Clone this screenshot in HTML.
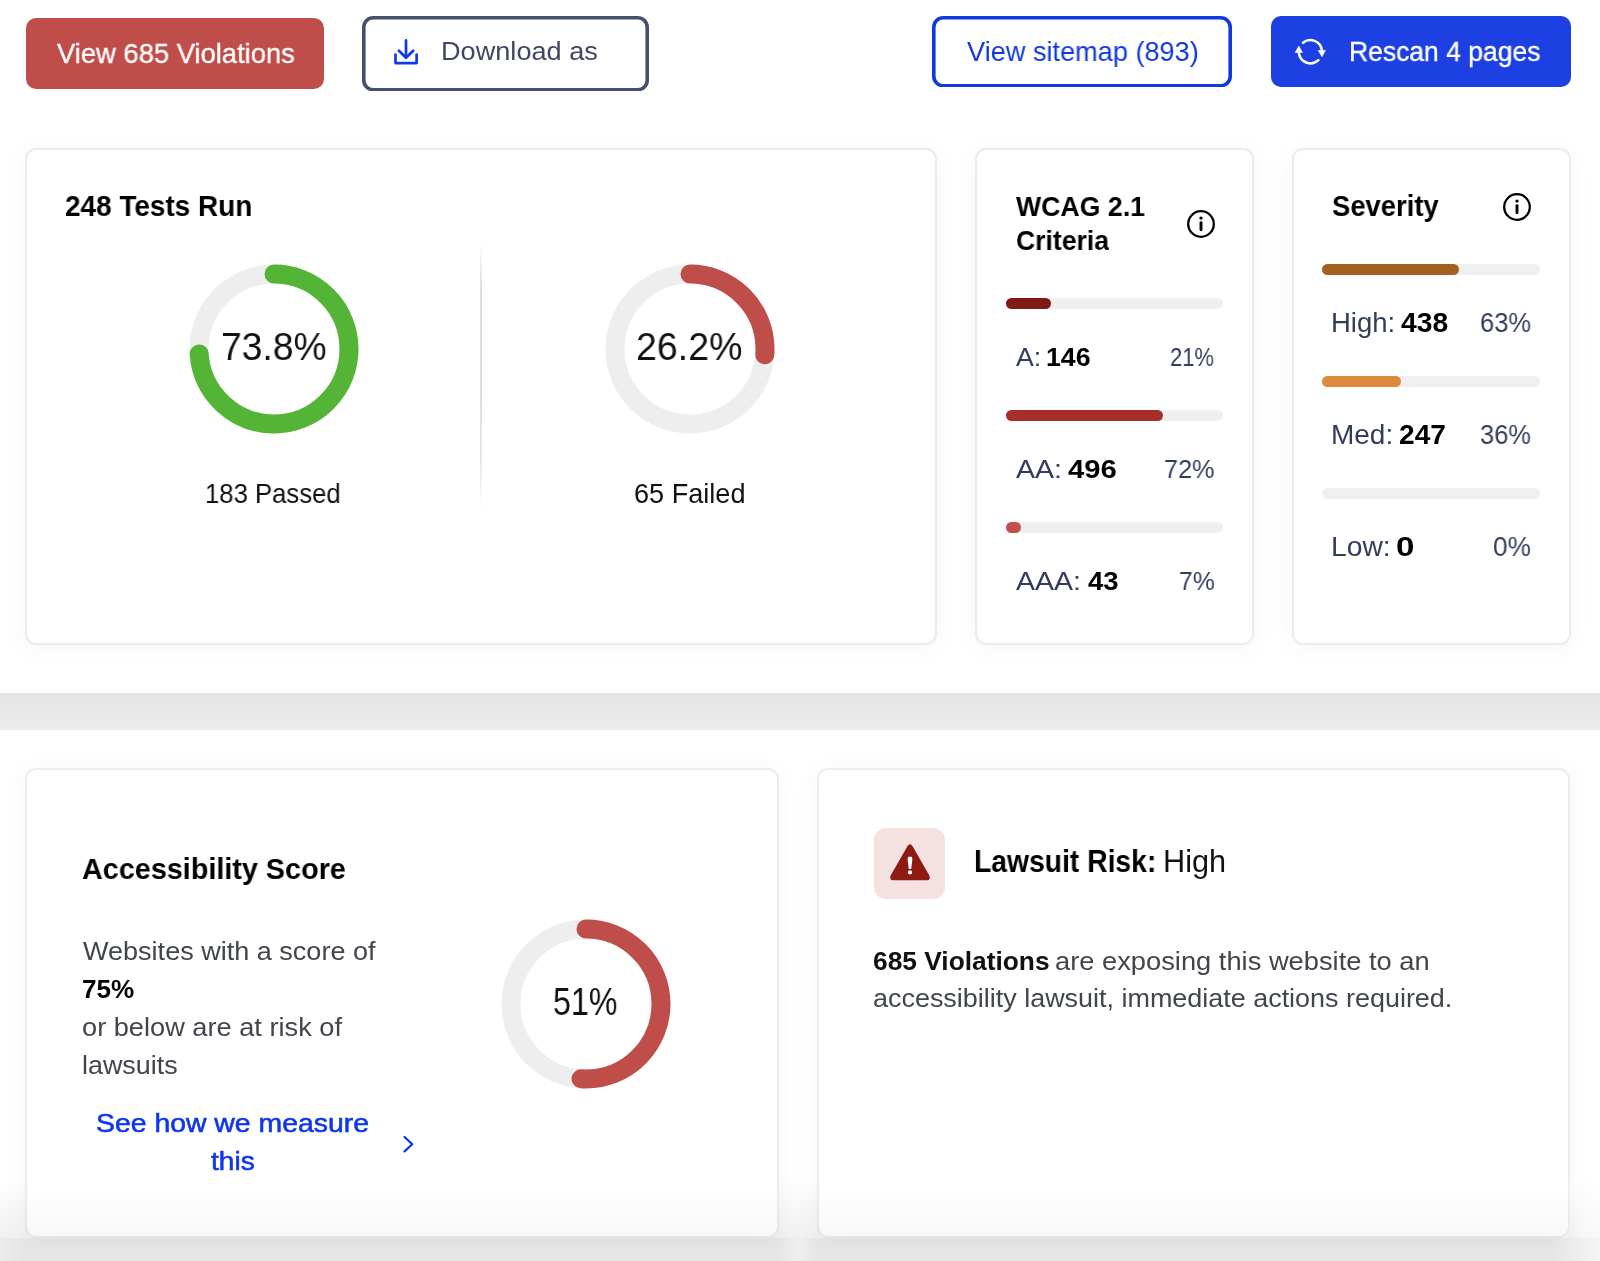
<!DOCTYPE html>
<html><head><meta charset="utf-8"><style>
html,body{margin:0;padding:0;}
body{width:1600px;height:1261px;overflow:hidden;position:relative;background:#fff;font-family:'Liberation Sans', sans-serif;}
.abs{position:absolute;}
.t{position:absolute;white-space:nowrap;line-height:1;font-family:'Liberation Sans', sans-serif;will-change:transform;}
.t b{font-weight:700;color:#000;}
.card{position:absolute;box-sizing:border-box;background:#fff;border:2px solid #ececec;border-radius:11px;box-shadow:0 3px 24px rgba(0,0,0,0.045);}
</style></head><body>
<div class="abs" style="left:25.5px;top:17.5px;width:298px;height:71.5px;border-radius:10px;background:#bf4d4a"></div>
<svg class="abs" style="left:362px;top:15.5px" width="287" height="75.5" viewBox="0 0 287 75.5"><rect x="1.8" y="1.8" width="283.4" height="71.9" rx="9.5" fill="#fff" stroke="#46506a" stroke-width="3.6"/></svg>
<svg class="abs" style="left:932px;top:15.5px" width="300" height="71.5" viewBox="0 0 300 71.5"><rect x="1.8" y="1.8" width="296.4" height="67.9" rx="9.5" fill="#fff" stroke="#1139e2" stroke-width="3.6"/></svg>
<div class="abs" style="left:1270.5px;top:15.5px;width:300px;height:71.5px;border-radius:10px;background:#1c40e2"></div>
<svg class="abs" style="left:390px;top:35px" width="32" height="32" viewBox="390 35 32 32">
<path d="M406 40.4 V57" stroke="#1038e6" stroke-width="2.7" fill="none" stroke-linecap="round"/>
<path d="M398.9 50.7 L406 57.8 L413.2 50.7" stroke="#1038e6" stroke-width="2.7" fill="none" stroke-linecap="round" stroke-linejoin="round"/>
<path d="M395.5 54.6 V63.1 H416.6 V54.6" stroke="#1038e6" stroke-width="2.7" fill="none" stroke-linecap="round" stroke-linejoin="round"/>
</svg>
<svg class="abs" style="left:1290px;top:32px" width="42" height="40" viewBox="1290 32 42 40">
<path d="M1302.99 42.77 A11.6 11.6 0 0 1 1321.87 50.2" stroke="#fff" stroke-width="2.5" fill="none" stroke-linecap="round"/>
<path d="M1318.39 60.11 A11.6 11.6 0 0 1 1298.84 52.4" stroke="#fff" stroke-width="2.5" fill="none" stroke-linecap="round"/>
<path d="M1318.3 50.4 L1325.5 50.4 L1321.9 56.7 Z" fill="#fff" stroke="#fff" stroke-width="0.6" stroke-linejoin="round"/>
<path d="M1295.2 52.5 L1302.4 52.5 L1298.8 46.0 Z" fill="#fff" stroke="#fff" stroke-width="0.6" stroke-linejoin="round"/>
</svg>
<div class="abs" style="left:0;top:692.6px;width:1600px;height:37.6px;background:linear-gradient(#e4e4e4,#ececec)"></div>
<div class="abs" style="left:0;top:1180px;width:1600px;height:58px;background:linear-gradient(to bottom,rgba(230,230,230,0),rgba(230,230,230,0.6))"></div>
<div class="abs" style="left:0;top:1238px;width:1600px;height:23px;background:#e6e6e6"></div>
<div class="card" style="left:25px;top:148px;width:912px;height:497px"></div>
<div class="card" style="left:975px;top:148px;width:279px;height:497px"></div>
<div class="card" style="left:1292px;top:148px;width:279px;height:497px"></div>
<div class="card" style="left:25px;top:768px;width:754px;height:470px"></div>
<div class="card" style="left:817px;top:768px;width:753px;height:470px"></div>
<div class="abs" style="left:479.5px;top:242px;width:2px;height:269px;background:linear-gradient(to bottom,rgba(222,222,222,0),#dcdcdc 18%,#dddddd 55%,#e6e6e6 80%,rgba(235,235,235,0))"></div>
<svg class="abs" style="left:179.80px;top:255.30px" width="188" height="188" viewBox="0 0 188 188">
<circle cx="94.0" cy="94.0" r="75" fill="none" stroke="#eeeeee" stroke-width="19"/>
<circle cx="94.0" cy="94.0" r="75" fill="none" stroke="#53b435" stroke-width="19" stroke-linecap="round" stroke-dasharray="347.774 471.239" transform="rotate(-90 94.0 94.0)"/>
</svg>
<svg class="abs" style="left:595.80px;top:255.30px" width="188" height="188" viewBox="0 0 188 188">
<circle cx="94.0" cy="94.0" r="75" fill="none" stroke="#eeeeee" stroke-width="19"/>
<circle cx="94.0" cy="94.0" r="75" fill="none" stroke="#bf4d4a" stroke-width="19" stroke-linecap="round" stroke-dasharray="123.465 471.239" transform="rotate(-90 94.0 94.0)"/>
</svg>
<svg class="abs" style="left:491.90px;top:909.50px" width="188" height="188" viewBox="0 0 188 188">
<circle cx="94.0" cy="94.0" r="75" fill="none" stroke="#eeeeee" stroke-width="19"/>
<circle cx="94.0" cy="94.0" r="75" fill="none" stroke="#bf4d4a" stroke-width="19" stroke-linecap="round" stroke-dasharray="240.332 471.239" transform="rotate(-90 94.0 94.0)"/>
</svg>
<svg class="abs" style="left:1186px;top:209px" width="30" height="30" viewBox="0 0 30 30">
<circle cx="15" cy="15" r="12.8" fill="none" stroke="#000" stroke-width="2.3"/>
<circle cx="15" cy="9.1" r="1.7" fill="#000"/>
<line x1="15" y1="13.6" x2="15" y2="20.8" stroke="#000" stroke-width="2.9" stroke-linecap="round"/>
</svg>
<svg class="abs" style="left:1502.4px;top:191.8px" width="30" height="30" viewBox="0 0 30 30">
<circle cx="15" cy="15" r="12.8" fill="none" stroke="#000" stroke-width="2.3"/>
<circle cx="15" cy="9.1" r="1.7" fill="#000"/>
<line x1="15" y1="13.6" x2="15" y2="20.8" stroke="#000" stroke-width="2.9" stroke-linecap="round"/>
</svg>
<div class="abs" style="left:1005.7px;top:298.2px;width:217.8px;height:11px;border-radius:5.5px;background:#efefef"><div class="abs" style="left:0;top:0;width:45.3px;height:11px;border-radius:5.5px;background:#7f1a14"></div></div>
<div class="abs" style="left:1005.7px;top:410px;width:217.8px;height:11px;border-radius:5.5px;background:#efefef"><div class="abs" style="left:0;top:0;width:157.0px;height:11px;border-radius:5.5px;background:#a62f2b"></div></div>
<div class="abs" style="left:1005.7px;top:522px;width:217.8px;height:11px;border-radius:5.5px;background:#efefef"><div class="abs" style="left:0;top:0;width:15.1px;height:11px;border-radius:5.5px;background:#c14f4c"></div></div>
<div class="abs" style="left:1322.3px;top:264px;width:217.9px;height:11px;border-radius:5.5px;background:#efefef"><div class="abs" style="left:0;top:0;width:136.8px;height:11px;border-radius:5.5px;background:#a3601f"></div></div>
<div class="abs" style="left:1322.3px;top:376px;width:217.9px;height:11px;border-radius:5.5px;background:#efefef"><div class="abs" style="left:0;top:0;width:78.4px;height:11px;border-radius:5.5px;background:#dd8a3c"></div></div>
<div class="abs" style="left:1322.3px;top:488.2px;width:217.9px;height:11px;border-radius:5.5px;background:#efefef"></div>
<svg class="abs" style="left:398px;top:1132px" width="22" height="24" viewBox="398 1132 22 24">
<path d="M404.5 1137 L412.3 1144.2 L404.5 1151.4" stroke="#0b33ef" stroke-width="2.2" fill="none" stroke-linecap="round" stroke-linejoin="round"/>
</svg>
<div class="abs" style="left:874px;top:828px;width:71px;height:71px;border-radius:12px;background:#f6e1e1"></div>
<svg class="abs" style="left:885px;top:840px" width="50" height="45" viewBox="885 840 50 45">
<path d="M907.4 846.3 Q910 842.2 912.6 846.3 L929.2 875.2 Q931.4 880.2 926.5 880.2 L893.5 880.2 Q888.6 880.2 890.8 875.2 Z" fill="#8e1b11"/>
<path d="M907.6 859 Q907.6 856.6 910 856.6 Q912.4 856.6 912.4 859 L911.3 868.4 Q910 869.4 908.7 868.4 Z" fill="#fff"/>
<circle cx="910" cy="872.4" r="2.1" fill="#fff"/>
</svg>
<div class="abs" style="left:779px;top:1238px;width:38px;height:23px;background:linear-gradient(to right,rgba(255,255,255,0),rgba(255,255,255,0.35) 50%,rgba(255,255,255,0))"></div>
<div class="abs" style="left:1550px;top:1180px;width:50px;height:81px;background:linear-gradient(to right,rgba(255,255,255,0),rgba(255,255,255,0.6))"></div>
<div class="abs" style="left:0;top:1238px;width:25px;height:23px;background:linear-gradient(to right,rgba(255,255,255,0.25),rgba(255,255,255,0))"></div>
<div class="abs" style="left:25px;top:1190px;width:754px;height:48px;border-radius:0 0 11px 11px;background:linear-gradient(to bottom,rgba(0,0,0,0),rgba(0,0,0,0.03))"></div>
<div class="abs" style="left:817px;top:1190px;width:753px;height:48px;border-radius:0 0 11px 11px;background:linear-gradient(to bottom,rgba(0,0,0,0),rgba(0,0,0,0.03))"></div>
<div class="t" style="left:56.50px;top:39.69px;font-size:27.54px;font-weight:400;color:#ffffff;transform:scaleX(0.9937);transform-origin:0 0;-webkit-text-stroke:0.35px #fff;">View 685 Violations</div>
<div class="t" style="left:441.26px;top:37.93px;font-size:26.67px;font-weight:400;color:#3e4764;transform:scaleX(1.0179);transform-origin:0 0;">Download as</div>
<div class="t" style="left:967.00px;top:37.64px;font-size:27.25px;font-weight:400;color:#1038e0;transform:scaleX(0.9957);transform-origin:0 0;">View sitemap (893)</div>
<div class="t" style="left:1349.47px;top:37.62px;font-size:27.39px;font-weight:400;color:#ffffff;transform:scaleX(0.9672);transform-origin:0 0;-webkit-text-stroke:0.35px #fff;">Rescan 4 pages</div>
<div class="t" style="left:65.29px;top:191.56px;font-size:28.99px;font-weight:700;color:#000000;transform:scaleX(0.9635);transform-origin:0 0;">248 Tests Run</div>
<div class="t" style="left:220.85px;top:327.88px;font-size:38.26px;font-weight:400;color:#111111;transform:scaleX(0.9733);transform-origin:0 0;">73.8%</div>
<div class="t" style="left:636.44px;top:327.88px;font-size:38.26px;font-weight:400;color:#111111;transform:scaleX(0.9810);transform-origin:0 0;">26.2%</div>
<div class="t" style="left:204.90px;top:479.86px;font-size:27.10px;font-weight:400;color:#111111;transform:scaleX(0.9479);transform-origin:0 0;">183 Passed</div>
<div class="t" style="left:634.00px;top:479.86px;font-size:27.10px;font-weight:400;color:#111111;transform:scaleX(1.0000);transform-origin:0 0;">65 Failed</div>
<div class="t" style="left:1015.90px;top:191.76px;font-size:28.41px;font-weight:700;color:#000000;transform:scaleX(0.9394);transform-origin:0 0;">WCAG 2.1</div>
<div class="t" style="left:1015.57px;top:225.56px;font-size:28.41px;font-weight:700;color:#000000;transform:scaleX(0.9343);transform-origin:0 0;">Criteria</div>
<div class="t" style="left:1016.00px;top:343.58px;font-size:26.38px;font-weight:400;color:#323c5c;transform:scaleX(1.0130);transform-origin:0 0;">A:</div>
<div class="t" style="left:1046.48px;top:343.58px;font-size:26.38px;font-weight:700;color:#000000;transform:scaleX(1.0122);transform-origin:0 0;">146</div>
<div class="t" style="left:1169.87px;top:343.58px;font-size:26.38px;font-weight:400;color:#323c5c;transform:scaleX(0.8333);transform-origin:0 0;">21%</div>
<div class="t" style="left:1016.00px;top:455.58px;font-size:26.38px;font-weight:400;color:#323c5c;transform:scaleX(1.0825);transform-origin:0 0;">AA:</div>
<div class="t" style="left:1068.00px;top:455.58px;font-size:26.38px;font-weight:700;color:#000000;transform:scaleX(1.1093);transform-origin:0 0;">496</div>
<div class="t" style="left:1163.64px;top:455.58px;font-size:26.38px;font-weight:400;color:#323c5c;transform:scaleX(0.9569);transform-origin:0 0;">72%</div>
<div class="t" style="left:1016.00px;top:567.88px;font-size:26.38px;font-weight:400;color:#323c5c;transform:scaleX(1.0793);transform-origin:0 0;">AAA:</div>
<div class="t" style="left:1087.50px;top:567.88px;font-size:26.38px;font-weight:700;color:#000000;transform:scaleX(1.0448);transform-origin:0 0;">43</div>
<div class="t" style="left:1178.76px;top:567.88px;font-size:26.38px;font-weight:400;color:#323c5c;transform:scaleX(0.9361);transform-origin:0 0;">7%</div>
<div class="t" style="left:1331.85px;top:191.71px;font-size:28.70px;font-weight:700;color:#000000;transform:scaleX(0.9550);transform-origin:0 0;">Severity</div>
<div class="t" style="left:1331.25px;top:310.11px;font-size:26.81px;font-weight:400;color:#323c5c;transform:scaleX(1.0259);transform-origin:0 0;">High:</div>
<div class="t" style="left:1401.00px;top:310.11px;font-size:26.81px;font-weight:700;color:#000000;transform:scaleX(1.0545);transform-origin:0 0;">438</div>
<div class="t" style="left:1479.55px;top:310.11px;font-size:26.81px;font-weight:400;color:#323c5c;transform:scaleX(0.9519);transform-origin:0 0;">63%</div>
<div class="t" style="left:1331.21px;top:421.61px;font-size:26.81px;font-weight:400;color:#323c5c;transform:scaleX(1.0436);transform-origin:0 0;">Med:</div>
<div class="t" style="left:1398.65px;top:421.61px;font-size:26.81px;font-weight:700;color:#000000;transform:scaleX(1.0488);transform-origin:0 0;">247</div>
<div class="t" style="left:1479.65px;top:421.61px;font-size:26.81px;font-weight:400;color:#323c5c;transform:scaleX(0.9500);transform-origin:0 0;">36%</div>
<div class="t" style="left:1331.19px;top:534.11px;font-size:26.81px;font-weight:400;color:#323c5c;transform:scaleX(1.0538);transform-origin:0 0;">Low:</div>
<div class="t" style="left:1396.26px;top:534.11px;font-size:26.81px;font-weight:700;color:#000000;transform:scaleX(1.2385);transform-origin:0 0;">0</div>
<div class="t" style="left:1492.92px;top:534.11px;font-size:26.81px;font-weight:400;color:#323c5c;transform:scaleX(0.9757);transform-origin:0 0;">0%</div>
<div class="t" style="left:82.04px;top:854.22px;font-size:29.86px;font-weight:700;color:#000000;transform:scaleX(0.9632);transform-origin:0 0;">Accessibility Score</div>
<div class="t" style="left:83.00px;top:937.83px;font-size:26.09px;font-weight:400;color:#41454c;transform:scaleX(1.0367);transform-origin:0 0;">Websites with a score of</div>
<div class="t" style="left:82.01px;top:975.83px;font-size:26.09px;font-weight:700;color:#000000;transform:scaleX(0.9941);transform-origin:0 0;">75%</div>
<div class="t" style="left:81.96px;top:1013.53px;font-size:26.09px;font-weight:400;color:#41454c;transform:scaleX(1.0430);transform-origin:0 0;">or below are at risk of</div>
<div class="t" style="left:81.94px;top:1051.83px;font-size:26.09px;font-weight:400;color:#41454c;transform:scaleX(1.0311);transform-origin:0 0;">lawsuits</div>
<div class="t" style="left:96.37px;top:1110.69px;font-size:25.07px;font-weight:400;color:#0d36ee;transform:scaleX(1.1326);transform-origin:0 0;-webkit-text-stroke:0.55px #0d36ee;">See how we measure</div>
<div class="t" style="left:211.30px;top:1149.29px;font-size:25.07px;font-weight:400;color:#0d36ee;transform:scaleX(1.1205);transform-origin:0 0;-webkit-text-stroke:0.55px #0d36ee;">this</div>
<div class="t" style="left:553.31px;top:982.80px;font-size:38.12px;font-weight:400;color:#111111;transform:scaleX(0.8438);transform-origin:0 0;">51%</div>
<div class="t" style="left:973.94px;top:845.93px;font-size:30.43px;font-weight:700;color:#000000;transform:scaleX(0.9298);transform-origin:0 0;">Lawsuit Risk:</div>
<div class="t" style="left:1162.78px;top:845.93px;font-size:30.43px;font-weight:400;color:#111111;transform:scaleX(1.0085);transform-origin:0 0;">High</div>
<div class="t" style="left:873.34px;top:949.41px;font-size:24.93px;font-weight:700;color:#111111;transform:scaleX(1.0564);transform-origin:0 0;">685 Violations</div>
<div class="t" style="left:1055.11px;top:949.41px;font-size:24.93px;font-weight:400;color:#41454c;transform:scaleX(1.0950);transform-origin:0 0;">are exposing this website to an</div>
<div class="t" style="left:872.92px;top:985.81px;font-size:24.93px;font-weight:400;color:#41454c;transform:scaleX(1.0807);transform-origin:0 0;">accessibility lawsuit, immediate actions required.</div>
</body></html>
